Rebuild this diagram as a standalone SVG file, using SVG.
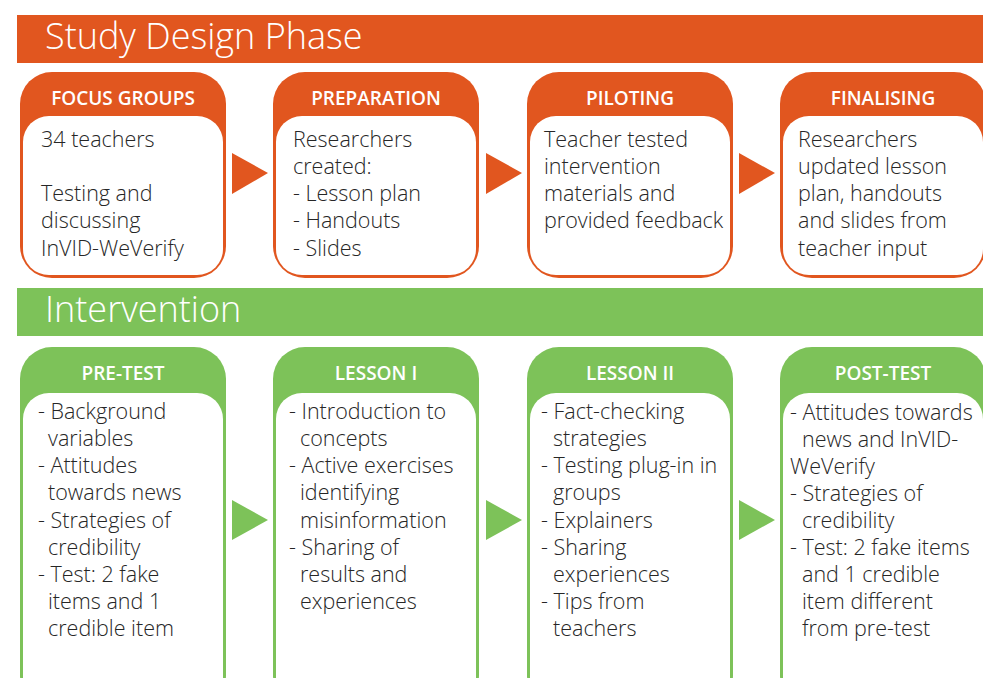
<svg xmlns="http://www.w3.org/2000/svg" width="983" height="678" viewBox="0 0 983 678">
<style>
.or{fill:#E1561F}
.gr{fill:#7DC259}
.in{fill:#ffffff}
.ttl{font-family:"Open Sans","Liberation Sans",sans-serif;font-weight:300;font-size:36px;fill:#ffffff}
.hd{font-family:"Open Sans","Liberation Sans",sans-serif;font-weight:600;font-size:19px;fill:#ffffff;text-anchor:middle}
.bd{font-family:"Open Sans","Liberation Sans",sans-serif;font-weight:300;font-size:21.5px;fill:#262626}
</style>
<rect width="983" height="678" fill="#ffffff"/>
<g id="banner-design">
<rect class="or" x="17" y="15" width="966" height="48"/>
<text class="ttl" x="45" y="49">Study Design Phase</text>
</g>
<g id="banner-intervention">
<rect class="gr" x="17" y="288" width="966" height="48"/>
<text class="ttl" x="45" y="322">Intervention</text>
</g>
<g id="focus-groups">
<rect class="or" x="20" y="72" width="206" height="206" rx="32"/>
<rect class="in" x="23" y="116" width="200" height="159" rx="26"/>
<text class="hd" x="123" y="105">FOCUS GROUPS</text>
<text class="bd" x="41" y="147">34 teachers<tspan x="41" y="201">Testing and</tspan><tspan x="41" y="228">discussing</tspan><tspan x="41" y="256">InVID-WeVerify</tspan></text>
</g>
<g id="preparation">
<rect class="or" x="273" y="72" width="206" height="206" rx="32"/>
<rect class="in" x="276" y="116" width="200" height="159" rx="26"/>
<text class="hd" x="376" y="105">PREPARATION</text>
<text class="bd" x="293" y="147">Researchers<tspan x="293" y="174">created:</tspan><tspan x="293" y="201">- Lesson plan</tspan><tspan x="293" y="228">- Handouts</tspan><tspan x="293" y="256">- Slides</tspan></text>
</g>
<g id="piloting">
<rect class="or" x="527" y="72" width="206" height="206" rx="32"/>
<rect class="in" x="530" y="116" width="200" height="159" rx="26"/>
<text class="hd" x="630" y="105">PILOTING</text>
<text class="bd" x="544" y="147">Teacher tested<tspan x="544" y="174">intervention</tspan><tspan x="544" y="201">materials and</tspan><tspan x="544" y="228">provided feedback</tspan></text>
</g>
<g id="finalising">
<rect class="or" x="780" y="72" width="206" height="206" rx="32"/>
<rect class="in" x="783" y="116" width="200" height="159" rx="26"/>
<text class="hd" x="883" y="105">FINALISING</text>
<text class="bd" x="798" y="147">Researchers<tspan x="798" y="174">updated lesson</tspan><tspan x="798" y="201">plan, handouts</tspan><tspan x="798" y="228">and slides from</tspan><tspan x="798" y="256">teacher input</tspan></text>
</g>
<g id="pre-test">
<rect class="gr" x="20" y="347" width="206" height="360" rx="32"/>
<rect class="in" x="23" y="393" width="200" height="320" rx="26"/>
<text class="hd" x="123" y="380">PRE-TEST</text>
<text class="bd" x="38" y="419">- Background<tspan x="48" y="446">variables</tspan><tspan x="38" y="473">- Attitudes</tspan><tspan x="48" y="500">towards news</tspan><tspan x="38" y="528">- Strategies of</tspan><tspan x="48" y="555">credibility</tspan><tspan x="38" y="582">- Test: 2 fake</tspan><tspan x="48" y="609">items and 1</tspan><tspan x="48" y="636">credible item</tspan></text>
</g>
<g id="lesson-1">
<rect class="gr" x="273" y="347" width="206" height="360" rx="32"/>
<rect class="in" x="276" y="393" width="200" height="320" rx="26"/>
<text class="hd" x="376" y="380">LESSON I</text>
<text class="bd" x="289" y="419">- Introduction to<tspan x="300" y="446">concepts</tspan><tspan x="289" y="473">- Active exercises</tspan><tspan x="300" y="500">identifying</tspan><tspan x="300" y="528">misinformation</tspan><tspan x="289" y="555">- Sharing of</tspan><tspan x="300" y="582">results and</tspan><tspan x="300" y="609">experiences</tspan></text>
</g>
<g id="lesson-2">
<rect class="gr" x="527" y="347" width="206" height="360" rx="32"/>
<rect class="in" x="530" y="393" width="200" height="320" rx="26"/>
<text class="hd" x="630" y="380">LESSON II</text>
<text class="bd" x="541" y="419">- Fact-checking<tspan x="553" y="446">strategies</tspan><tspan x="541" y="473">- Testing plug-in in</tspan><tspan x="553" y="500">groups</tspan><tspan x="541" y="528">- Explainers</tspan><tspan x="541" y="555">- Sharing</tspan><tspan x="553" y="582">experiences</tspan><tspan x="541" y="609">- Tips from</tspan><tspan x="553" y="636">teachers</tspan></text>
</g>
<g id="post-test">
<rect class="gr" x="780" y="347" width="206" height="360" rx="32"/>
<rect class="in" x="783" y="393" width="200" height="320" rx="26"/>
<text class="hd" x="883" y="380">POST-TEST</text>
<text class="bd" x="790" y="420">- Attitudes towards<tspan x="802" y="447">news and InVID-</tspan><tspan x="790" y="474">WeVerify</tspan><tspan x="790" y="501">- Strategies of</tspan><tspan x="802" y="528">credibility</tspan><tspan x="790" y="555">- Test: 2 fake items</tspan><tspan x="802" y="582">and 1 credible</tspan><tspan x="802" y="609">item different</tspan><tspan x="802" y="636">from pre-test</tspan></text>
</g>
<g id="connectors">
<polygon class="or" points="232,153 268,173 232,194"/>
<polygon class="or" points="486,153 522,173 486,194"/>
<polygon class="or" points="739,153 775,173 739,194"/>
<polygon class="gr" points="232,500 268,520 232,540"/>
<polygon class="gr" points="486,500 522,520 486,540"/>
<polygon class="gr" points="739,500 775,520 739,540"/>
</g>
</svg>
